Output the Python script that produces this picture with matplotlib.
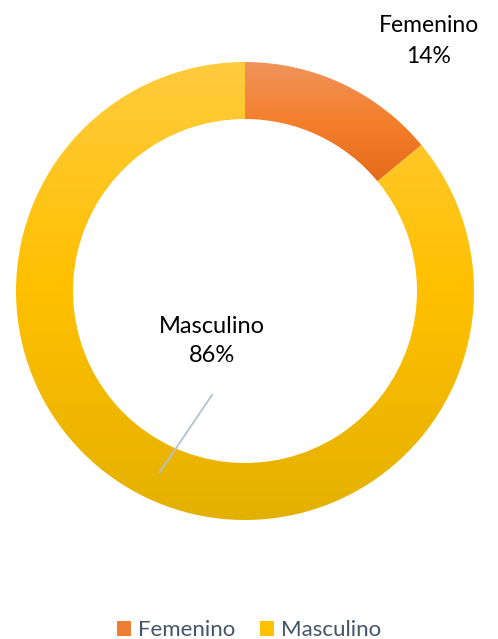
import numpy as np
import matplotlib.pyplot as plt
from matplotlib.colors import LinearSegmentedColormap
from matplotlib.patches import Patch

labels = ['Femenino', 'Masculino']
values = [14, 86]
top_colors = ['#F0945C', '#FFCB3D']
mid_colors = ['#F47F2C', '#FFC000']
bot_colors = ['#E46B1B', '#E4B000']
legend_colors = ['#ED7D31', '#FFC000']

font = 'Lato'

W, H = 498, 639
fig = plt.figure(figsize=(W / 100, H / 100), dpi=100)
ax = fig.add_axes([0, 0, 1, 1])

cx, cy, R, ring = 245, 348, 229, 57
wedges, _ = ax.pie(values, radius=R, center=(cx, cy), startangle=90,
                   counterclock=False, frame=True,
                   wedgeprops=dict(width=ring, linewidth=0))
ax.set_xlim(0, W)
ax.set_ylim(0, H)
ax.set_aspect('equal')
ax.axis('off')

grad = np.linspace(0, 1, 256).reshape(-1, 1)
for w, t, m, b in zip(wedges, top_colors, mid_colors, bot_colors):
    w.set_facecolor('none')
    bb = w.get_path().get_extents()
    cmap = LinearSegmentedColormap.from_list('g', [b, m, t])
    im = ax.imshow(grad, cmap=cmap, origin='lower', aspect='auto',
                   extent=[bb.x0, bb.x1, bb.y0, bb.y1], zorder=1)
    im.set_clip_path(w)

# Femenino label (top right)
ax.text(429, 598, f'{labels[0]}\n{values[0]}%', ha='center', va='center',
        fontsize=16.5, family=font, color='#000000', linespacing=1.6)

# Masculino label with leader line
theta = np.deg2rad(90 - 360 * (values[0] + values[1] / 2) / 100)
rm = R - ring / 2
px, py = cx + rm * np.cos(theta), cy + rm * np.sin(theta)
ax.text(212, 298, f'{labels[1]}\n{values[1]}%', ha='center', va='center',
        fontsize=17, family=font, color='#000000', linespacing=1.5)
ax.plot([212, px], [244, py], color='#B4C0CF', lw=1.3, zorder=3)

handles = [Patch(facecolor=c, edgecolor='none') for c in legend_colors]
leg = ax.legend(handles, labels, loc='center', bbox_to_anchor=(0.5, 0.014),
                ncol=2, frameon=False, handlelength=0.65, handleheight=0.65,
                handletextpad=0.3, columnspacing=1.1,
                prop={'family': font, 'size': 16})
for t in leg.get_texts():
    t.set_color('#44546A')

fig.savefig('out.png', dpi=100)
